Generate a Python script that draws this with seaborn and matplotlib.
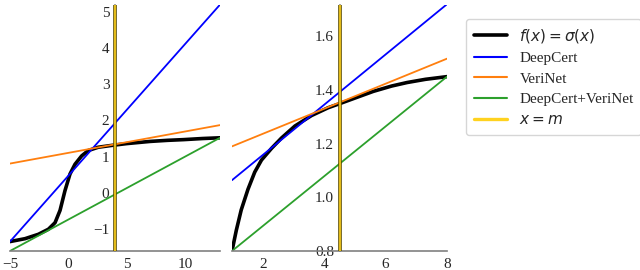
import matplotlib
matplotlib.use("Agg")
import matplotlib.pyplot as plt
import seaborn as sns

# left panel: x = m = 4
m_left = 4
left_fx_x = [-5, -3.71, -2.57, -1.71, -1.14, -0.71, -0.29, 0.14, 0.57, 1.14, 1.71, 2.57, 3.71, 5, 6, 7, 8.5, 9.9, 11.5, 13]
left_fx_y = [-1.34, -1.26, -1.14, -1.0, -0.82, -0.48, 0.06, 0.52, 0.79, 1.02, 1.17, 1.26, 1.31, 1.36, 1.39, 1.42, 1.45, 1.47, 1.5, 1.52]
left_x_ends = [-5, 13]
left_deepcert = [-1.34, 5.19]
left_verinet = [0.81, 1.87]
left_both = [-1.6, 1.52]

# right panel: x = m = 4.5
m_right = 4.5
right_fx_x = [1, 1.14, 1.30, 1.52, 1.74, 1.96, 2.29, 2.61, 3.05, 3.59, 4.13, 4.57, 5.12, 5.6, 6.2, 6.7, 7.3, 8]
right_fx_y = [0.8, 0.877, 0.953, 1.03, 1.094, 1.139, 1.183, 1.221, 1.266, 1.305, 1.334, 1.352, 1.375, 1.395, 1.415, 1.428, 1.44, 1.45]
right_x_ends = [1, 8]
right_deepcert = [1.064, 1.72]
right_verinet = [1.19, 1.517]
right_both = [0.8, 1.45]

labels = ["$f(x) = \\sigma(x)$", "DeepCert", "VeriNet", "DeepCert+VeriNet", "$x = m$"]
colors = ["black", "#0000ff", "#ff7f0e", "#2ca02c", "#ffd21f"]

sns.set_style("white")
plt.rcParams["font.family"] = ["Liberation Serif", "DejaVu Serif"]
plt.rcParams["mathtext.fontset"] = "dejavusans"
plt.rcParams["font.size"] = 11

fig = plt.figure(figsize=(6.4, 2.7), dpi=100)
ax1 = fig.add_axes([10 / 640, 19 / 270, 210 / 640, 246 / 270])
ax2 = fig.add_axes([232 / 640, 19 / 270, 215 / 640, 246 / 270])


def draw(ax, fx_x, fx_y, xe, dc, vn, both, m, xlim, ylim, yticks, xticks):
    sns.lineplot(x=fx_x, y=fx_y, ax=ax, color=colors[0], lw=2.6, label=labels[0], sort=False)
    sns.lineplot(x=xe, y=dc, ax=ax, color=colors[1], lw=1.3, label=labels[1])
    sns.lineplot(x=xe, y=vn, ax=ax, color=colors[2], lw=1.3, label=labels[2])
    sns.lineplot(x=xe, y=both, ax=ax, color=colors[3], lw=1.3, label=labels[3])
    ax.axvline(m, color="#5a4b00", lw=2.6, zorder=3)
    ax.axvline(m, color=colors[4], lw=1.2, zorder=3.1, label=labels[4])
    ax.set_xlim(*xlim)
    ax.set_ylim(*ylim)
    ax.set_xticks(xticks)
    ax.set_yticks(yticks)
    ax.spines["left"].set_position(("data", m))
    ax.spines["top"].set_visible(False)
    ax.spines["right"].set_visible(False)
    for s in ["left", "bottom"]:
        ax.spines[s].set_color("#808080")
        ax.spines[s].set_linewidth(1.2)
    ax.tick_params(axis="both", direction="out", length=3, width=0.8, color="#808080", pad=1, labelsize=11)
    ax.tick_params(axis="x", pad=2)
    ax.legend().remove()


draw(ax1, left_fx_x, left_fx_y, left_x_ends, left_deepcert, left_verinet, left_both,
     m_left, (-5, 13), (-1.6, 5.18), [-1, 0, 1, 2, 3, 4, 5], [-5, 0, 5, 10])
draw(ax2, right_fx_x, right_fx_y, right_x_ends, right_deepcert, right_verinet, right_both,
     m_right, (1, 8), (0.8, 1.717), [0.8, 1.0, 1.2, 1.4, 1.6], [2, 4, 6, 8])
ax2.set_yticklabels(["0.8", "1.0", "1.2", "1.4", "1.6"])

handles, lbls = ax1.get_legend_handles_labels()
leg = fig.legend(handles, lbls, loc="upper left", bbox_to_anchor=(466 / 640, 1 - 19 / 270),
                 borderaxespad=0, frameon=True, fontsize=11, handlelength=2.2,
                 labelspacing=0.45, borderpad=0.5)
leg.get_frame().set_edgecolor("#cccccc")
for line in leg.get_lines():
    if line.get_color() == "black":
        line.set_linewidth(2.6)
    elif line.get_label() == labels[4]:
        line.set_linewidth(2.4)
    else:
        line.set_linewidth(1.5)

fig.savefig("out.png", dpi=100)
